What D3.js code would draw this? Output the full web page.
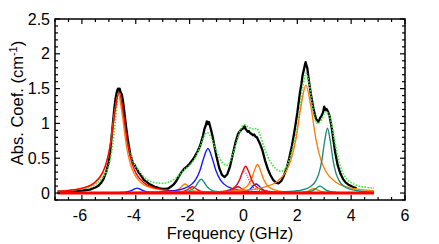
<!DOCTYPE html>
<html>
<head>
<meta charset="utf-8">
<script src="https://cdn.jsdelivr.net/npm/d3@7"></script>
<style>
  body { margin: 0; background: #fff; }
  svg { display: block; font-family: "Liberation Sans", Arial, sans-serif; }
  .tick-label { font-size: 16px; fill: #000; }
  .axis-title { font-size: 16.5px; fill: #000; }
</style>
</head>
<body>
<svg id="chart" width="439" height="244"></svg>
<script>
// measured absorption (black, noisy)
const measured = [
  [-6.9,0.02],[-6.8,0.02],[-6.7,0.025],[-6.6,0.02],[-6.5,0.025],[-6.4,0.03],[-6.3,0.025],[-6.2,0.03],
  [-6.1,0.03],[-6.0,0.035],[-5.9,0.04],[-5.8,0.045],[-5.7,0.05],[-5.6,0.065],[-5.5,0.08],[-5.4,0.1],
  [-5.3,0.14],[-5.2,0.2],[-5.1,0.3],[-5.0,0.45],[-4.95,0.6],[-4.9,0.8],[-4.85,1.0],[-4.8,1.2],
  [-4.75,1.36],[-4.7,1.46],[-4.66,1.5],[-4.63,1.45],[-4.6,1.5],[-4.56,1.44],[-4.52,1.42],[-4.48,1.33],
  [-4.45,1.25],[-4.4,1.08],[-4.35,0.92],[-4.3,0.78],[-4.25,0.66],[-4.2,0.55],[-4.15,0.49],[-4.1,0.42],
  [-4.05,0.41],[-4.0,0.37],[-3.95,0.34],[-3.9,0.3],[-3.8,0.25],[-3.7,0.19],[-3.6,0.16],[-3.5,0.13],
  [-3.4,0.11],[-3.3,0.09],[-3.2,0.08],[-3.1,0.065],[-3.0,0.06],[-2.9,0.06],[-2.8,0.065],[-2.7,0.09],
  [-2.6,0.12],[-2.5,0.17],[-2.4,0.24],[-2.3,0.3],[-2.2,0.35],[-2.1,0.38],[-2.0,0.42],[-1.9,0.47],
  [-1.8,0.53],[-1.7,0.6],[-1.6,0.69],[-1.55,0.76],[-1.5,0.83],[-1.45,0.92],[-1.4,0.97],[-1.36,1.03],
  [-1.32,0.99],[-1.28,1.02],[-1.24,0.96],[-1.2,0.9],[-1.15,0.82],[-1.1,0.72],[-1.05,0.62],[-1.0,0.52],
  [-0.9,0.36],[-0.8,0.26],[-0.7,0.23],[-0.6,0.27],[-0.5,0.38],[-0.4,0.55],[-0.3,0.72],[-0.2,0.85],
  [-0.15,0.88],[-0.1,0.9],[-0.05,0.92],[0.0,0.93],[0.04,0.96],[0.08,0.92],[0.12,0.9],[0.16,0.88],
  [0.2,0.89],[0.25,0.86],[0.3,0.85],[0.35,0.83],[0.4,0.84],[0.45,0.81],[0.5,0.8],[0.55,0.76],
  [0.6,0.72],[0.7,0.62],[0.8,0.47],[0.9,0.35],[1.0,0.26],[1.1,0.19],[1.2,0.15],[1.3,0.14],[1.4,0.17],
  [1.5,0.25],[1.6,0.35],[1.7,0.5],[1.8,0.68],[1.9,0.9],[2.0,1.15],[2.1,1.45],[2.15,1.56],[2.2,1.7],
  [2.25,1.78],[2.28,1.84],[2.31,1.88],[2.34,1.83],[2.37,1.8],[2.4,1.7],[2.45,1.56],[2.5,1.43],
  [2.55,1.32],[2.6,1.21],[2.65,1.13],[2.7,1.06],[2.75,1.04],[2.78,1.02],[2.82,1.05],[2.85,1.08],
  [2.9,1.11],[2.95,1.15],[3.0,1.24],[3.03,1.19],[3.06,1.21],[3.1,1.2],[3.15,1.16],[3.2,1.1],
  [3.25,1.0],[3.3,0.88],[3.35,0.74],[3.4,0.6],[3.5,0.4],[3.6,0.28],[3.7,0.2],[3.8,0.15],[3.9,0.12],
  [4.0,0.1],[4.1,0.08],[4.2,0.07]
];

// total fit (green dotted)
const fitTotal = [
  [-6.9,0.03],[-6.0,0.06],[-5.5,0.12],[-5.3,0.19],[-5.1,0.3],[-5.0,0.4],[-4.9,0.58],[-4.8,0.87],
  [-4.7,1.25],[-4.62,1.45],[-4.55,1.36],[-4.45,1.08],[-4.3,0.7],[-4.1,0.45],[-3.9,0.33],[-3.6,0.2],
  [-3.3,0.15],[-3.0,0.14],[-2.7,0.17],[-2.4,0.25],[-2.2,0.33],[-2.0,0.4],[-1.8,0.5],[-1.6,0.68],
  [-1.45,0.82],[-1.35,0.87],[-1.2,0.8],[-1.0,0.6],[-0.8,0.44],[-0.6,0.4],[-0.4,0.55],[-0.2,0.8],
  [-0.05,0.96],[0.05,0.98],[0.2,0.94],[0.4,0.92],[0.5,0.93],[0.6,0.85],[0.8,0.62],[1.0,0.45],
  [1.2,0.35],[1.4,0.31],[1.6,0.38],[1.8,0.6],[2.0,0.95],[2.2,1.5],[2.32,1.72],[2.45,1.55],
  [2.6,1.15],[2.75,1.0],[2.9,1.05],[3.05,1.17],[3.2,1.1],[3.4,0.72],[3.6,0.38],[3.8,0.22],
  [4.0,0.15],[4.3,0.1],[4.6,0.08],[4.85,0.07]
];

// fitted components
const redMain = [[-6.9,0.026],[-6.48,0.039],[-5.86,0.085],[-5.55,0.145],[-5.24,0.29],[-5.085,0.446],[-4.93,0.725],[-4.775,1.16],[-4.62,1.45],[-4.465,1.16],[-4.31,0.725],[-4.155,0.446],[-4.0,0.29],[-3.69,0.145],[-3.38,0.085],[-2.76,0.039],[-1.52,0.014],[4.85,0.0015]];
const orangeMain = [[-6.9,0.023],[-6.39,0.038],[-5.81,0.0835],[-5.52,0.142],[-5.23,0.284],[-5.085,0.437],[-4.94,0.71],[-4.795,1.136],[-4.65,1.42],[-4.505,1.136],[-4.36,0.71],[-4.215,0.437],[-4.07,0.284],[-3.78,0.142],[-3.49,0.0835],[-2.91,0.038],[-1.75,0.014],[4.85,0.0013]];
const blueA = [[-6.9,0],[-6.15,0.0007],[-4.83,0.004],[-4.61,0.007],[-4.39,0.014],[-4.17,0.035],[-4.06,0.056],[-3.95,0.07],[-3.84,0.056],[-3.73,0.035],[-3.51,0.014],[-3.29,0.007],[-3.07,0.004],[-1.75,0.0007],[4.85,0]];
const orangeB = [[-6.9,0],[-4.17,0.0013],[-3.37,0.0035],[-2.97,0.0076],[-2.77,0.013],[-2.57,0.026],[-2.47,0.04],[-2.37,0.065],[-2.27,0.104],[-2.17,0.13],[-2.07,0.104],[-1.97,0.065],[-1.87,0.04],[-1.77,0.026],[-1.57,0.013],[-1.37,0.0076],[-0.97,0.0035],[-0.17,0.0013],[4.85,0]];
const redB = [[-6.9,0],[-3.9,0.0009],[-3.1,0.0024],[-2.7,0.0053],[-2.5,0.009],[-2.3,0.018],[-2.2,0.028],[-2.1,0.045],[-2.0,0.072],[-1.9,0.09],[-1.8,0.072],[-1.7,0.045],[-1.6,0.028],[-1.5,0.018],[-1.3,0.009],[-1.1,0.0053],[-0.7,0.0024],[0.1,0.0009],[4.85,0]];
const tealA = [[-6.9,0.0003],[-3.57,0.002],[-2.77,0.0054],[-2.37,0.0118],[-2.17,0.02],[-1.97,0.04],[-1.87,0.0615],[-1.77,0.1],[-1.67,0.16],[-1.57,0.2],[-1.47,0.16],[-1.37,0.1],[-1.27,0.0615],[-1.17,0.04],[-0.97,0.02],[-0.77,0.0118],[-0.37,0.0054],[0.43,0.002],[4.85,0.0003]];
const blueB = [[-6.9,0.0018],[-4.32,0.0063],[-3.12,0.0173],[-2.52,0.0376],[-2.22,0.064],[-1.92,0.128],[-1.77,0.197],[-1.62,0.32],[-1.47,0.512],[-1.32,0.64],[-1.17,0.512],[-1.02,0.32],[-0.87,0.197],[-0.72,0.128],[-0.42,0.064],[-0.12,0.0376],[0.48,0.0173],[1.68,0.0063],[4.85,0.0015]];
const orangeC = [[-6.9,0],[-2.35,0.0005],[-1.55,0.0014],[-1.15,0.0029],[-0.95,0.005],[-0.75,0.01],[-0.55,0.025],[-0.45,0.04],[-0.35,0.05],[-0.25,0.04],[-0.15,0.025],[0.05,0.01],[0.25,0.005],[0.45,0.0029],[0.85,0.0014],[1.65,0.0005],[4.85,0]];
const redC = [[-6.9,0],[-4.2,0.0009],[-1.4,0.0024],[-1.0,0.0053],[-0.8,0.009],[-0.6,0.018],[-0.5,0.028],[-0.4,0.045],[-0.3,0.072],[-0.2,0.09],[-0.1,0.072],[0.0,0.045],[0.1,0.028],[0.2,0.018],[0.4,0.009],[0.6,0.0053],[1.0,0.0024],[1.8,0.0009],[4.85,0]];
const redD = [[-6.9,0.0004],[-2.12,0.0038],[-1.24,0.0104],[-0.8,0.0226],[-0.58,0.0385],[-0.36,0.077],[-0.25,0.118],[-0.14,0.1925],[-0.03,0.308],[0.08,0.385],[0.19,0.308],[0.3,0.1925],[0.41,0.118],[0.52,0.077],[0.74,0.0385],[0.96,0.0226],[1.4,0.0104],[2.28,0.0038],[4.85,0.0008]];
const purpleA = [[-6.9,0.0003],[-1.97,0.0032],[-1.17,0.0087],[-0.77,0.0188],[-0.57,0.032],[-0.37,0.064],[-0.27,0.098],[-0.17,0.16],[-0.07,0.256],[0.03,0.32],[0.13,0.256],[0.23,0.16],[0.33,0.098],[0.43,0.064],[0.63,0.032],[0.83,0.0188],[1.23,0.0087],[2.03,0.0032],[4.85,0.0005]];
const orangeD = [[-6.9,0.0004],[-1.68,0.0041],[-0.8,0.0111],[-0.36,0.0241],[-0.14,0.041],[0.08,0.082],[0.19,0.126],[0.3,0.205],[0.41,0.328],[0.52,0.41],[0.63,0.328],[0.74,0.205],[0.85,0.126],[0.96,0.082],[1.18,0.041],[1.4,0.0241],[1.84,0.0111],[2.72,0.0041],[4.85,0.0011]];
const blueC = [[-6.9,0],[-1.53,0.0013],[-0.73,0.0035],[-0.33,0.0076],[-0.13,0.013],[0.07,0.026],[0.17,0.04],[0.27,0.065],[0.37,0.104],[0.47,0.13],[0.57,0.104],[0.67,0.065],[0.77,0.04],[0.87,0.026],[1.07,0.013],[1.27,0.0076],[1.67,0.0035],[2.47,0.0013],[4.85,0.0002]];
const orangeE = [[-6.9,0.0025],[-1.38,0.0153],[0.1,0.0419],[0.84,0.0912],[1.21,0.155],[1.58,0.31],[1.765,0.477],[1.95,0.775],[2.135,1.24],[2.32,1.55],[2.505,1.24],[2.69,0.775],[2.875,0.477],[3.06,0.31],[3.43,0.155],[3.8,0.0912],[4.54,0.0419],[4.85,0.0324]];
const orangeF = [[-6.9,0],[0.62,0.00065],[1.42,0.0018],[1.82,0.0038],[2.02,0.0065],[2.22,0.013],[2.32,0.02],[2.42,0.0325],[2.52,0.052],[2.62,0.065],[2.72,0.052],[2.82,0.0325],[2.92,0.02],[3.02,0.013],[3.22,0.0065],[3.42,0.0038],[3.82,0.0018],[4.62,0.00065],[4.85,0.0005]];
const tealB = [[-6.9,0],[0.84,0.001],[1.64,0.0027],[2.04,0.0059],[2.24,0.01],[2.44,0.02],[2.54,0.031],[2.64,0.05],[2.74,0.08],[2.84,0.1],[2.94,0.08],[3.04,0.05],[3.14,0.031],[3.24,0.02],[3.44,0.01],[3.64,0.0059],[4.04,0.0027],[4.85,0.001]];
const tealC = [[-6.9,0.0004],[1.02,0.0092],[1.86,0.0251],[2.28,0.0547],[2.49,0.093],[2.7,0.186],[2.805,0.286],[2.91,0.465],[3.015,0.744],[3.12,0.93],[3.225,0.744],[3.33,0.465],[3.435,0.286],[3.54,0.186],[3.75,0.093],[3.96,0.0547],[4.38,0.0251],[4.85,0.0135]];
const baseline = [[-6.9,0],[4.85,0]];

const xTicks = [-6, -4, -2, 0, 2, 4, 6];
const yTicks = [0, 0.5, 1, 1.5, 2, 2.5];
const yTickLabels = ['0', '0.5', '1', '1.5', '2', '2.5'];

const RED = '#ff0000', ORANGE = '#ff7a0a', BLUE = '#1414ff', TEAL = '#178a78', PURPLE = '#7a3a9a';

const svg = d3.select('#chart');
const M = { left: 55, right: 405, top: 19, bottom: 200 };

const x = d3.scaleLinear().domain([-7, 6]).range([M.left, M.right]);
const y = d3.scaleLinear().domain([-0.1, 2.5]).range([M.bottom, M.top]);

const smooth = d3.line().x(d => x(d[0])).y(d => y(d[1])).curve(d3.curveMonotoneX);
const raw = d3.line().x(d => x(d[0])).y(d => y(d[1]));

const plot = svg.append('g');

function drawSeries(data, gen, color, width, dash) {
  const p = plot.append('path')
    .datum(data)
    .attr('d', gen)
    .attr('fill', 'none')
    .attr('stroke', color)
    .attr('stroke-width', width)
    .attr('stroke-linejoin', 'round');
  if (dash) p.attr('stroke-dasharray', dash);
}

drawSeries(measured, raw, '#000', 2.3);
drawSeries(fitTotal, smooth, '#3ee63e', 1.6, '1.6,1.4');

// components, back to front
[
  [orangeMain, ORANGE], [redMain, RED], [blueA, BLUE], [orangeB, ORANGE], [redB, RED],
  [tealA, TEAL], [blueB, BLUE], [orangeC, ORANGE], [redC, RED], [orangeD, ORANGE],
  [blueC, BLUE], [redD, RED], [orangeE, ORANGE], [orangeF, ORANGE], [tealB, TEAL], [tealC, TEAL]
].forEach(([d, c]) => drawSeries(d, smooth, c, 1.35));
drawSeries(purpleA, smooth, PURPLE, 1.1, '1,1.3');
drawSeries(baseline, raw, RED, 3);

// frame
svg.append('rect')
  .attr('x', M.left).attr('y', M.top)
  .attr('width', M.right - M.left).attr('height', M.bottom - M.top)
  .attr('fill', 'none').attr('stroke', '#000').attr('stroke-width', 1.5);

// inward ticks on all four sides
const xMinor = d3.range(-7, 6.01, 0.5);
const yMinor = d3.range(-0.1, 2.501, 0.1);
const ticks = svg.append('g').attr('stroke', '#000').attr('stroke-width', 1.2);
xMinor.forEach(v => {
  const major = Math.abs(v % 2) < 1e-6;
  const len = major ? 5 : 3;
  ticks.append('line').attr('x1', x(v)).attr('x2', x(v)).attr('y1', M.bottom).attr('y2', M.bottom - len);
  ticks.append('line').attr('x1', x(v)).attr('x2', x(v)).attr('y1', M.top).attr('y2', M.top + len);
});
yMinor.forEach(v => {
  const r = Math.round(v * 10) / 10;
  const major = Math.abs((r * 2) - Math.round(r * 2)) < 1e-6;
  const len = major ? 5 : 3;
  ticks.append('line').attr('x1', M.left).attr('x2', M.left + len).attr('y1', y(r)).attr('y2', y(r));
  ticks.append('line').attr('x1', M.right).attr('x2', M.right - len).attr('y1', y(r)).attr('y2', y(r));
});

// tick labels
xTicks.forEach(v => {
  svg.append('text').attr('class', 'tick-label')
    .attr('x', x(v) - (v < 0 ? 2 : 0)).attr('y', 221)
    .attr('text-anchor', 'middle')
    .text(v < 0 ? '-' + Math.abs(v) : String(v));
});
yTicks.forEach((v, i) => {
  svg.append('text').attr('class', 'tick-label')
    .attr('x', 50).attr('y', y(v) + 5.5)
    .attr('text-anchor', 'end')
    .text(yTickLabels[i]);
});

// axis titles
svg.append('text').attr('class', 'axis-title')
  .attr('x', (M.left + M.right) / 2).attr('y', 239)
  .attr('text-anchor', 'middle')
  .text('Frequency (GHz)');

const yt = svg.append('text').attr('class', 'axis-title')
  .attr('transform', 'translate(23,103) rotate(-90)')
  .attr('text-anchor', 'middle');
yt.append('tspan').text('Abs. Coef. (cm');
yt.append('tspan').attr('dy', -6).style('font-size', '11px').text('-1');
yt.append('tspan').attr('dy', 6).text(')');
</script>
</body>
</html>
